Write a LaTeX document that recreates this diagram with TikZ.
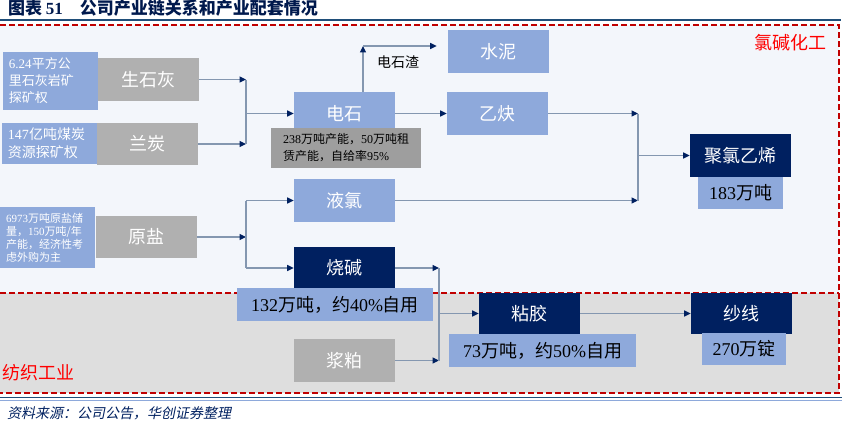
\documentclass[tikz,border=0pt]{standalone}
\usepackage{fontspec}
\setmainfont{Noto Sans CJK SC}
\newfontfamily\shufont{Liberation Serif}
\newfontfamily\laiyuanfont{Noto Sans CJK SC}[FakeSlant=0.2]
\newcommand{\shu}[1]{{\shufont #1}}
\usetikzlibrary{arrows.meta}

\definecolor{qianlan}{HTML}{8EA9DB}
\definecolor{huise}{HTML}{B0B0B0}
\definecolor{shenlan}{HTML}{002060}
\definecolor{shangdi}{HTML}{F3F6FB}
\definecolor{xiadi}{HTML}{DEDEDE}
\definecolor{xianse}{HTML}{8497B0}
\definecolor{hongxian}{HTML}{C00000}
\definecolor{biaoxian}{HTML}{1F4E79}

\tikzset{
  box/.style={minimum width=50.5pt, minimum height=21.5pt, inner sep=0pt,
    text=white, font=\fontsize{9}{10}\selectfont},
  huibox/.style={box, fill=huise},
  lanbox/.style={box, fill=qianlan},
  shenbox/.style={box, fill=shenlan},
  beizhu/.style={fill=qianlan, inner sep=0pt, text=black,
    font=\fontsize{9}{10}\selectfont},
  kuangquan/.style={fill=qianlan, text=white, align=left, inner xsep=3pt,
    inner ysep=0pt},
  xian/.style={draw=xianse, line width=0.6pt},
  flow/.style={xian, -{Triangle[length=3.2pt,width=3pt,color=shenlan]}},
  quyu/.style={draw=hongxian, line width=1pt, dash pattern=on 3pt off 1.5pt},
  quming/.style={text=red, font=\fontsize{9}{10}\selectfont}
}

\begin{document}
\begin{tikzpicture}[x=0.5pt,y=-0.5pt]
  \useasboundingbox (0,0) rectangle (851,424);

  % title and frame
  \node[anchor=west, text=shenlan!80!black, font=\bfseries\fontsize{8.5}{10}\selectfont]
    (biaoti) at (1,8) {图表 \shu{51}\quad 公司产业链关系和产业配套情况};
  \draw[biaoxian, line width=1pt] (0,19.5) -- (841,19.5);
  \fill[shangdi] (0,25) rectangle (839,293);
  \fill[xiadi] (0,293) rectangle (839,393);
  \draw[quyu] (0,25) -- (839,25) -- (839,393) -- (0,393);
  \draw[quyu] (0,293) -- (839,293);
  \draw[biaoxian, line width=0.8pt] (0,397.5) -- (842,397.5);
  \draw[qianlan, line width=0.4pt] (0,400.3) -- (842,400.3);
  \node[anchor=west, text=shenlan, font=\laiyuanfont\fontsize{7}{8}\selectfont]
    (laiyuan) at (0,413) {资料来源：公司公告，华创证券整理};

  \node[quming] (lvjian) at (790,43) {氯碱化工};
  \node[quming] (fangzhi) at (39,373) {纺织工业};

  % raw materials
  \node[kuangquan, text width=41.5pt, minimum height=29pt,
    font=\fontsize{6.5}{8.5}\selectfont] (kuang1) at (50.5,81)
    {\shu{6.24}平方公\\里石灰岩矿\\探矿权};
  \node[huibox, minimum height=21.5pt] (shihui) at (148,79.5) {生石灰};
  \node[kuangquan, text width=41.5pt, minimum height=20.5pt,
    font=\fontsize{7}{9}\selectfont] (kuang2) at (49.5,143.5)
    {\shu{147}亿吨煤炭\\资源探矿权};
  \node[huibox, minimum height=21pt] (lantan) at (147.5,144) {兰炭};
  \node[kuangquan, text width=41.5pt, minimum height=30.5pt,
    font=\fontsize{5.5}{6.5}\selectfont] (kuang3) at (47.5,237.5)
    {\shu{6973}万吨原盐储\\量，\shu{150}万吨/年\\产能，经济性考\\虑外购为主};
  \node[huibox, minimum height=21pt] (yuanyan) at (146,237) {原盐};

  % chlor-alkali products
  \node[lanbox] (dianshi) at (344.5,113.5) {电石};
  \node[fill=huise!90!black, text=black, align=left, inner xsep=6pt, inner ysep=0pt,
    minimum width=75pt, minimum height=20pt, font=\fontsize{6}{8.5}\selectfont]
    (dsbeizhu) at (346,148)
    {\shu{238}万吨产能，\shu{50}万吨租\\赁产能，自给率\shu{95\%}};
  \node[lanbox] (shuini) at (498.5,51.5) {水泥};
  \node[lanbox] (yique) at (497.5,113.5) {乙炔};
  \node[lanbox] (yelv) at (344.5,200.5) {液氯};
  \node[shenbox, minimum height=21pt] (shaojian) at (344.5,268) {烧碱};
  \node[beizhu, minimum width=98pt, minimum height=16.5pt] (sjbeizhu) at (335,304.5)
    {\shu{132}万吨，约\shu{40\%}自用};
  \node[shenbox] (pvc) at (740.5,155.5) {聚氯乙烯};
  \node[beizhu, minimum width=42.5pt, minimum height=16pt] (pvcbeizhu) at (740.5,193)
    {\shu{183}万吨};

  % textile
  \node[huibox] (jiangpo) at (344.5,360.5) {浆粕};
  \node[shenbox, minimum height=20.5pt] (zhanjiao) at (529.5,313.5) {粘胶};
  \node[beizhu, minimum width=93.5pt, minimum height=16.5pt] (zjbeizhu) at (542.5,350.5)
    {\shu{73}万吨，约\shu{50\%}自用};
  \node[shenbox, minimum height=20.5pt] (shaxian) at (741.5,313.5) {纱线};
  \node[beizhu, minimum width=42pt, minimum height=16pt] (sxbeizhu) at (744,349)
    {\shu{270}万锭};

  % junctions
  \coordinate (hui1) at (246,113.5);
  \coordinate (fen1) at (246,237);
  \coordinate (hui2) at (638,156);
  \coordinate (fen2) at (439,314);
  \coordinate (zha) at (363,46);

  % connectors
  \draw[flow] (shihui.east) -- (shihui.east -| hui1);
  \draw[flow] (lantan.east) -- (lantan.east -| hui1);
  \draw[xian] (shihui.east -| hui1) -- (lantan.east -| hui1);
  \draw[flow] (dianshi.west -| hui1) -- (dianshi.west);

  \draw[flow] (dianshi.north -| zha) -- (zha);
  \draw[flow, shorten >=5.5pt] (zha) -- (zha -| shuini.west);
  \node[font=\fontsize{7}{8}\selectfont] (zhaming) at (398,62) {电石渣};
  \draw[flow] (dianshi.east) -- (yique.west);

  \draw[flow] (yuanyan.east) -- (yuanyan.east -| fen1);
  \draw[xian] (yelv.west -| fen1) -- (shaojian.west -| fen1);
  \draw[flow] (yelv.west -| fen1) -- (yelv.west);
  \draw[flow] (shaojian.west -| fen1) -- (shaojian.west);

  \draw[flow] (yique.east) -- (yique.east -| hui2);
  \draw[flow] (yelv.east) -- (yelv.east -| hui2);
  \draw[xian] (yique.east -| hui2) -- (yelv.east -| hui2);
  \draw[flow] (pvc.west -| hui2) -- (pvc.west);

  \draw[flow] (shaojian.east) -- (shaojian.east -| fen2);
  \draw[flow] (jiangpo.east) -- (jiangpo.east -| fen2);
  \draw[xian] (shaojian.east -| fen2) -- (jiangpo.east -| fen2);
  \draw[flow] (zhanjiao.west -| fen2) -- (zhanjiao.west);
  \draw[flow] (zhanjiao.east) -- (shaxian.west);
\end{tikzpicture}
\end{document}
